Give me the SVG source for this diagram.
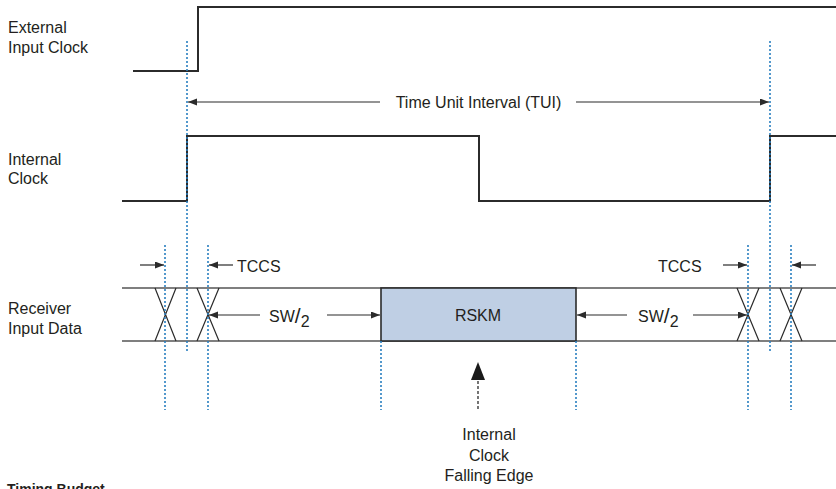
<svg xmlns="http://www.w3.org/2000/svg" width="836" height="489" viewBox="0 0 836 489">
<style>
text{font-family:"Liberation Sans",Arial,sans-serif;font-size:16px;fill:#231f20}
.sig{fill:none;stroke:#2b2b2b;stroke-width:2}
.bus{fill:none;stroke:#555;stroke-width:1.6}
.x{fill:none;stroke:#2b2b2b;stroke-width:1.2}
.dot{fill:none;stroke:#2a7fc0;stroke-width:1.6;stroke-dasharray:2 2}
.arr{fill:none;stroke:#2b2b2b;stroke-width:1.2}
.mid{text-anchor:middle}
</style>
<defs>
<marker id="ah" markerUnits="userSpaceOnUse" markerWidth="10" markerHeight="8" refX="9" refY="3.5" orient="auto-start-reverse">
<path d="M0,0 L9,3.5 L0,7 z" fill="#2b2b2b"/>
</marker>
</defs>
<g id="labels">
<text x="8" y="33">External</text>
<text x="8" y="53">Input Clock</text>
<text x="8" y="165">Internal</text>
<text x="8" y="184">Clock</text>
<text x="8" y="314">Receiver</text>
<text x="8" y="334">Input Data</text>
<text x="7" y="494" style="font-weight:bold;font-size:14px">Timing Budget</text>
</g>
<g id="external-clock">
<path class="sig" d="M133,71 H198 V7 H836"/>
</g>
<g id="internal-clock">
<path class="sig" d="M122,201 H187 V136 H479 V201 H770 V136 H836"/>
</g>
<g id="receiver-data">
<path class="bus" d="M122,288 H836 M122,341 H836"/>
<path class="x" d="M155,288 L176,341 M176,288 L155,341 M197,288 L219,341 M219,288 L197,341 M737,288 L759,341 M759,288 L737,341 M780,288 L802,341 M802,288 L780,341"/>
</g>
<g id="rskm">
<rect x="381" y="288" width="195" height="53" fill="#bfcfe4" stroke="#2b2b2b" stroke-width="1.6"/>
<text class="mid" x="478" y="321">RSKM</text>
</g>
<g id="guides">
<path class="dot" d="M187,41 V353 M770,41 V353 M165,245 V410 M208,245 V410 M748,245 V410 M791,245 V410 M381,341 V410 M576,341 V410"/>
</g>
<g id="connectors">
<path class="arr" marker-end="url(#ah)" d="M380,102 H188"/>
<path class="arr" marker-end="url(#ah)" d="M576,102 H769"/>
<path class="arr" marker-end="url(#ah)" d="M140,265 H164"/>
<path class="arr" marker-end="url(#ah)" d="M233,265 H209"/>
<path class="arr" marker-end="url(#ah)" d="M723,265 H747"/>
<path class="arr" marker-end="url(#ah)" d="M816,265 H792"/>
<path class="arr" marker-end="url(#ah)" d="M260,315 H209"/>
<path class="arr" marker-end="url(#ah)" d="M327,315 H380"/>
<path class="arr" marker-end="url(#ah)" d="M627,315 H577"/>
<path class="arr" marker-end="url(#ah)" d="M693,315 H747"/>
<path d="M478,409 V379" fill="none" stroke="#2b2b2b" stroke-width="1.3" stroke-dasharray="3 2"/>
<path d="M478,362 L485,380 L471,380 z" fill="#1a1a1a"/>
</g>
<g id="annotations">
<text class="mid" x="478.5" y="108">Time Unit Interval (TUI)</text>
<text x="237" y="272">TCCS</text>
<text x="658" y="272">TCCS</text>
<text x="269" y="322">SW<tspan style="font-size:21px" dy="1">/</tspan><tspan dy="4">2</tspan></text>
<text x="638" y="322">SW<tspan style="font-size:21px" dy="1">/</tspan><tspan dy="4">2</tspan></text>
<text class="mid" x="489" y="440">Internal</text>
<text class="mid" x="489" y="461">Clock</text>
<text class="mid" x="489" y="481">Falling Edge</text>
</g>
</svg>
